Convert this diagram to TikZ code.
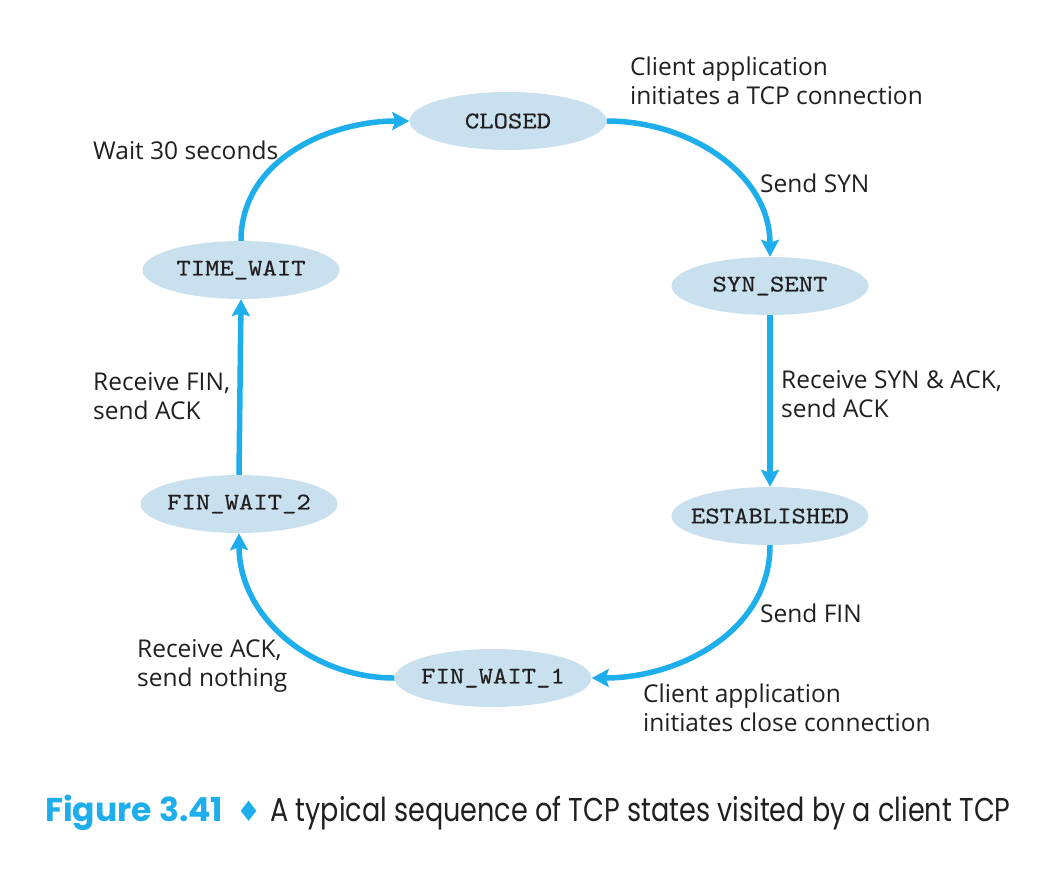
\documentclass[tikz,border=0pt]{standalone}
\usepackage{fontspec}
\setmainfont{Open Sans}
\newfontfamily\capfont[FakeStretch=0.82]{Poppins}
\newfontfamily\capboldfont{Poppins Bold}
\newfontfamily\symfont{DejaVu Sans}
\newfontfamily\statefont{lmmono10-regular}[Extension=.otf, FakeBold=0.45, FakeStretch=1.14]
\usetikzlibrary{shapes.geometric,arrows.meta}
\definecolor{arrowblue}{HTML}{1DAEEB}
\definecolor{nodeblue}{HTML}{C9E1EE}
\definecolor{txt}{HTML}{231F20}
\newcommand{\st}[1]{\makebox[0pt][c]{\statefont\fontsize{24}{24}\selectfont #1}}
\tikzset{
  state/.style={ellipse, fill=nodeblue, minimum width=197pt, minimum height=58pt, inner sep=0pt, text=txt},
  flow/.style={draw=arrowblue, line width=5.5pt, -{Stealth[length=17pt,width=18pt,inset=3pt]}},
  lbl/.style={anchor=west, align=left, text=txt, inner sep=0pt,
    font=\fontsize{24.5}{29}\selectfont},
}
\begin{document}
\begin{tikzpicture}[x=1pt,y=-1pt]
\useasboundingbox (0,0) rectangle (1054,868);
\node[state] (closed) at (508,121) {\st{CLOSED}};
\node[state] (synsent) at (770,286) {\st{SYN\_SENT}};
\node[state] (est) at (770,516) {\st{ESTABLISHED}};
\node[state] (fw1) at (493,678) {\st{FIN\_WAIT\_1}};
\node[state] (fw2) at (239,504) {\st{FIN\_WAIT\_2}};
\node[state] (tw) at (241,270) {\st{TIME\_WAIT}};

\draw[flow] (closed.east) to[out=0,in=90] (synsent.north);
\draw[flow] (synsent.south) -- (est.north);
\draw[flow] (est.south) to[out=-90,in=0] (fw1.east);
\draw[flow] (fw1.west) to[out=180,in=-90] (fw2.south);
\draw[flow] (fw2.north) -- (tw.south);
\draw[flow] (tw.north) to[out=90,in=180] (closed.west);

\node[lbl] (l1) at (630,81) {Client application\\initiates a TCP connection};
\node[lbl] (l2) at (760,183) {Send SYN};
\node[lbl] (l3) at (781,394) {Receive SYN \& ACK,\\send ACK};
\node[lbl] (l4) at (760,613) {Send FIN};
\node[lbl] (l5) at (643,708) {Client application\\initiates close connection};
\node[lbl] (l6) at (137,666) {Receive ACK,\\send nothing};
\node[lbl] (l7) at (93,396) {Receive FIN,\\send ACK};
\node[lbl] (l8) at (93,150) {Wait 30 seconds};

\node[anchor=base west, inner sep=0pt] (cap) at (45,821)
  {{\capboldfont\fontsize{33}{33}\selectfont\color{arrowblue}Figure 3.41}\hspace{13pt}{\symfont\fontsize{28}{28}\selectfont\color{arrowblue}♦}\hspace{9pt}{\capfont\fontsize{33}{33}\selectfont\color{txt}A typical sequence of TCP states visited by a client TCP}};
\end{tikzpicture}
\end{document}
